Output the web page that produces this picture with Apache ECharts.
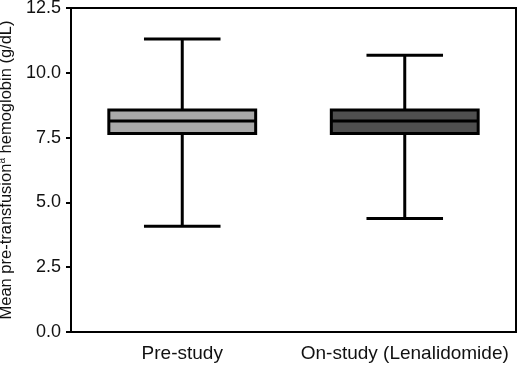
<!DOCTYPE html>
<html>
<head>
<meta charset="utf-8">
<script src="https://cdn.jsdelivr.net/npm/echarts@6/dist/echarts.min.js"></script>
<style>
  html, body { margin: 0; padding: 0; background: #fff; }
  #chart { width: 520px; height: 365px; }
</style>
</head>
<body>
<div id="chart"></div>
<script>
const categories = ['Pre-study', 'On-study (Lenalidomide)'];
const whiskerLow = [4.08, 4.38];
const q1 = [7.66, 7.66];
const median = [8.14, 8.14];
const q3 = [8.56, 8.56];
const whiskerHigh = [11.3, 10.68];
const yTicks = [0, 2.5, 5, 7.5, 10, 12.5];

const boxFills = ['#a9a9a9', '#4f4f4f'];
const font = 'Liberation Sans, Arial, Helvetica, sans-serif';

const seriesData = categories.map((c, i) => [i, whiskerLow[i], q1[i], median[i], q3[i], whiskerHigh[i]]);

function renderBox(params, api) {
  const idx = api.value(0);
  const band = api.size([1, 0])[0];
  const halfBox = band * 0.33;
  const halfCap = band * 0.172;
  const pLow = api.coord([idx, api.value(1)]);
  const pQ1 = api.coord([idx, api.value(2)]);
  const pMed = api.coord([idx, api.value(3)]);
  const pQ3 = api.coord([idx, api.value(4)]);
  const pHigh = api.coord([idx, api.value(5)]);
  const cx = pMed[0];
  const line = {stroke: '#000', lineWidth: 3};
  return {
    type: 'group',
    children: [
      {type: 'line', shape: {x1: cx, y1: pHigh[1], x2: cx, y2: pQ3[1]}, style: line},
      {type: 'line', shape: {x1: cx, y1: pQ1[1], x2: cx, y2: pLow[1]}, style: line},
      {type: 'line', shape: {x1: cx - halfCap, y1: pHigh[1], x2: cx + halfCap, y2: pHigh[1]}, style: line},
      {type: 'line', shape: {x1: cx - halfCap, y1: pLow[1], x2: cx + halfCap, y2: pLow[1]}, style: line},
      {type: 'rect', shape: {x: cx - halfBox, y: pQ3[1], width: halfBox * 2, height: pQ1[1] - pQ3[1]},
        style: {fill: boxFills[idx], stroke: '#000', lineWidth: 3}},
      {type: 'line', shape: {x1: cx - halfBox, y1: pMed[1], x2: cx + halfBox, y2: pMed[1]}, style: line}
    ]
  };
}

const myChart = echarts.init(document.getElementById('chart'));
const option = {
  animation: false,
  grid: {
    left: 71, right: 4, top: 8, bottom: 33,
    containLabel: false, outerBoundsMode: 'none',
    show: true, borderColor: '#000', borderWidth: 2, backgroundColor: 'transparent'
  },
  xAxis: {
    type: 'category',
    data: categories,
    axisLine: {lineStyle: {color: '#000', width: 2}},
    axisTick: {alignWithLabel: true, length: 5, lineStyle: {color: '#000', width: 2}},
    axisLabel: {color: '#111', fontSize: 19, fontFamily: font, margin: 12, interval: 0}
  },
  yAxis: {
    type: 'value',
    min: yTicks[0],
    max: yTicks[yTicks.length - 1],
    interval: 2.5,
    name: 'Mean pre-transfusion{sup|a} hemoglobin (g/dL)',
    nameLocation: 'middle',
    nameGap: 56,
    nameMoveOverlap: false,
    nameTextStyle: {
      color: '#111', fontSize: 16.5, fontFamily: font, lineHeight: 18,
      rich: {sup: {fontSize: 10, fontFamily: font, color: '#111', verticalAlign: 'top', lineHeight: 18}}
    },
    splitLine: {show: false},
    axisLine: {show: true, lineStyle: {color: '#000', width: 2}},
    axisTick: {show: true, length: 5, lineStyle: {color: '#000', width: 2}},
    axisLabel: {color: '#111', fontSize: 18, fontFamily: font, margin: 10,
      formatter: v => v.toFixed(1)}
  },
  series: [{
    type: 'custom',
    renderItem: renderBox,
    encode: {x: 0, y: [1, 2, 3, 4, 5]},
    data: seriesData
  }]
};
myChart.setOption(option);
window.addEventListener('resize', () => {
  myChart.resize();
});
</script>
</body>
</html>
